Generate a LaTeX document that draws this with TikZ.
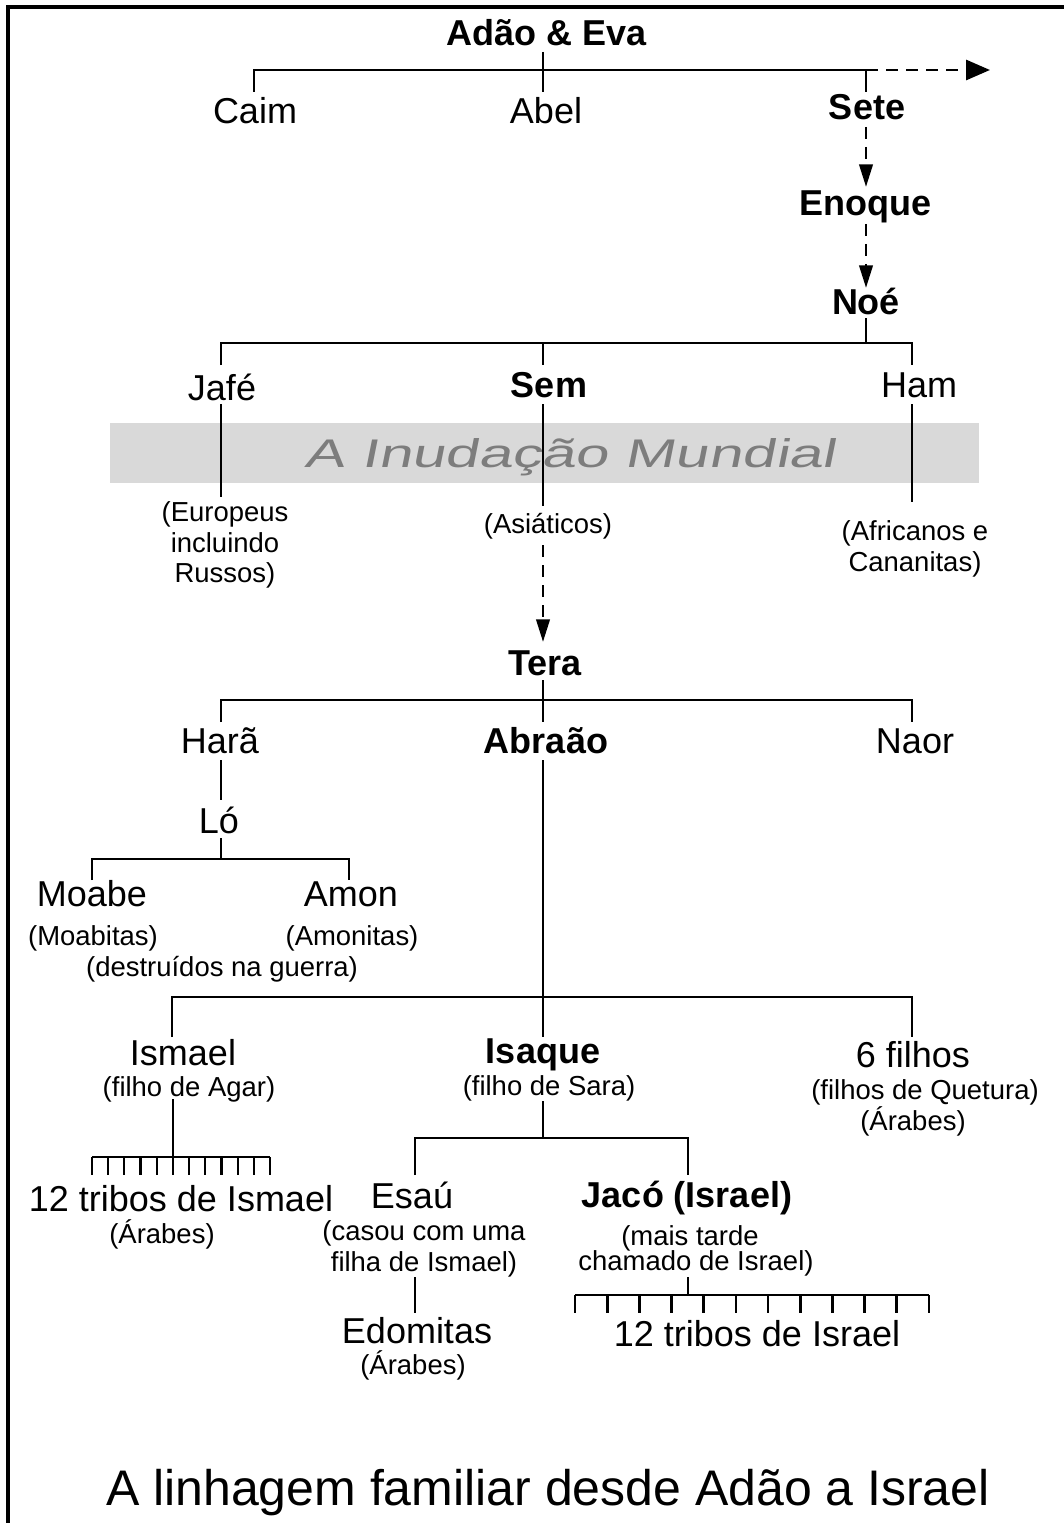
\documentclass[tikz,border=0pt]{standalone}
\usepackage{fontspec}
\setmainfont{Liberation Sans}
\newfontfamily\bandfont[FakeStretch=1.5,FakeSlant=0.2]{Liberation Sans}
\usetikzlibrary{arrows.meta}
\definecolor{bandgray}{RGB}{217,217,217}
\definecolor{bandtext}{RGB}{125,125,125}
\tikzset{
  nm/.style={font=\fontsize{27}{30}\selectfont, anchor=base, inner sep=0pt},
  bnm/.style={font=\fontsize{27}{30}\selectfont\bfseries, anchor=base, inner sep=0pt},
  sub/.style={font=\fontsize{20.6}{24}\selectfont, anchor=base, inner sep=0pt},
  ln/.style={line width=2.1pt},
  tk/.style={line width=1.6pt},
  dsh/.style={line width=2.2pt, dash pattern=on 9pt off 6pt},
  arr/.style={-{Triangle[length=17pt,width=10pt]}},
  bigarr/.style={-{Triangle[length=18pt,width=15pt]}}
}
\begin{document}
\begin{tikzpicture}[x=0.75pt,y=-0.75pt]
\useasboundingbox (0,0) rectangle (1063,1523);
% frame
\coordinate (fbl) at (8,1530);
\coordinate (ftl) at (8,7);
\coordinate (ftr) at (1070,7);
\draw[line width=2.3pt] (fbl) -- (ftl) -- (ftr);
% flood band
\fill[bandgray] (110,423) rectangle (979,483);
\node[font=\fontsize{30}{33}\selectfont\bandfont, text=bandtext, anchor=base, inner sep=0pt] (flood) at (570,467) {A Inudação Mundial};

% names
\node[bnm] (adao) at (547,46) {Adão \& Eva};
\node[nm] (caim) at (255,124) {Caim};
\node[nm] (abel) at (546,124) {Abel};
\node[bnm] (sete) at (867,120) {Sete};
\node[bnm] (enoque) at (865,216) {Enoque};
\node[bnm] (noe) at (866,314) {Noé};
\node[nm] (jafe) at (222,400) {Jafé};
\node[bnm] (sem) at (549,397) {Sem};
\node[nm] (ham) at (919,397) {Ham};
\node[sub] (eur1) at (225,521) {(Europeus};
\node[sub] (eur2) at (225,552) {incluindo};
\node[sub] (eur3) at (225,582) {Russos)};
\node[sub] (asia) at (548,533) {(Asiáticos)};
\node[sub] (afr1) at (915,540) {(Africanos e};
\node[sub] (afr2) at (915,571) {Cananitas)};
\node[bnm] (tera) at (545,675) {Tera};
\node[nm] (hara) at (220,753) {Harã};
\node[bnm] (abraao) at (546,753) {Abraão};
\node[nm] (naor) at (915,753) {Naor};
\node[nm] (lo) at (219,833) {Ló};
\node[nm] (moabe) at (92,906) {Moabe};
\node[nm] (amon) at (351,906) {Amon};
\node[sub] (moabitas) at (93,945) {(Moabitas)};
\node[sub] (amonitas) at (352,945) {(Amonitas)};
\node[sub] (destr) at (222,976) {(destruídos na guerra)};
\node[nm] (ismael) at (183,1065) {Ismael};
\node[bnm] (isaque) at (543,1063) {Isaque};
\node[nm] (seis) at (913,1067) {6 filhos};
\node[sub] (agar) at (189,1096) {(filho de Agar)};
\node[sub] (sara) at (549,1095) {(filho de Sara)};
\node[sub] (quet) at (925,1099) {(filhos de Quetura)};
\node[sub] (arab1) at (913,1130) {(Árabes)};
\node[nm] (tribism) at (181,1211) {12 tribos de Ismael};
\node[sub] (arab2) at (162,1243) {(Árabes)};
\node[nm] (esau) at (412,1208) {Esaú};
\node[bnm] (jaco) at (687,1207) {Jacó (Israel)};
\node[sub] (cas1) at (424,1240) {(casou com uma};
\node[sub] (cas2) at (424,1271) {filha de Ismael)};
\node[sub] (mais1) at (690,1245) {(mais tarde};
\node[sub] (mais2) at (696,1270) {chamado de Israel)};
\node[nm] (edom) at (417,1343) {Edomitas};
\node[sub] (arab3) at (413,1374) {(Árabes)};
\node[nm] (tribisr) at (757,1346) {12 tribos de Israel};
\node[font=\fontsize{37.5}{40}\selectfont, anchor=base, inner sep=0pt] (title) at (548,1505) {A linhagem familiar desde Adão a Israel};

% ---- connectors ----
% Adao & Eva
\coordinate (a0) at (543,52);
\coordinate (a1) at (543,92);
\coordinate (aL) at (254,70);
\coordinate (aLb) at (254,92);
\coordinate (aR) at (866,70);
\coordinate (aRb) at (866,92);
\coordinate (aArr) at (990,70);
\draw[ln] (a0) -- (a1);
\draw[ln] (aLb) -- (aL) -- (aR) -- (aRb);
\draw[dsh,bigarr] (aR) -- (aArr);
% Sete -> Enoque -> Noe
\coordinate (s0) at (866,127);
\coordinate (s1) at (866,187);
\coordinate (e0) at (866,224);
\coordinate (e1) at (866,288);
\draw[dsh,arr] (s0) -- (s1);
\draw[dsh,arr] (e0) -- (e1);
% Noe
\coordinate (n0) at (866,318);
\coordinate (n1) at (866,343);
\coordinate (nL) at (221,343);
\coordinate (nLb) at (221,365);
\coordinate (nR) at (912,343);
\coordinate (nRb) at (912,365);
\coordinate (nM) at (543,343);
\coordinate (nMb) at (543,365);
\draw[ln] (n0) -- (n1);
\draw[ln] (nLb) -- (nL) -- (nR) -- (nRb);
\draw[ln] (nM) -- (nMb);
% lines through the flood
\coordinate (j0) at (221,404);
\coordinate (j1) at (221,497);
\coordinate (m0) at (543,404);
\coordinate (m1) at (543,506);
\coordinate (h0) at (912,404);
\coordinate (h1) at (912,502);
\draw[ln] (j0) -- (j1);
\draw[ln] (m0) -- (m1);
\draw[ln] (h0) -- (h1);
% Sem -> Tera
\coordinate (t0) at (543,545);
\coordinate (t1) at (543,642);
\draw[dsh,arr] (t0) -- (t1);
% Tera
\coordinate (te0) at (543,680);
\coordinate (te1) at (543,722);
\coordinate (teL) at (221,700);
\coordinate (teLb) at (221,722);
\coordinate (teR) at (912,700);
\coordinate (teRb) at (912,722);
\draw[ln] (te0) -- (te1);
\draw[ln] (teLb) -- (teL) -- (teR) -- (teRb);
% Hara -> Lo
\coordinate (ha0) at (221,760);
\coordinate (ha1) at (221,800);
\draw[ln] (ha0) -- (ha1);
% Lo
\coordinate (l0) at (221,838);
\coordinate (l1) at (221,859);
\coordinate (lL) at (92,859);
\coordinate (lLb) at (92,880);
\coordinate (lR) at (349,859);
\coordinate (lRb) at (349,880);
\draw[ln] (l0) -- (l1);
\draw[ln] (lLb) -- (lL) -- (lR) -- (lRb);
% Abraao
\coordinate (ab0) at (543,760);
\coordinate (ab1) at (543,1037);
\coordinate (abL) at (172,997);
\coordinate (abLb) at (172,1037);
\coordinate (abR) at (912,997);
\coordinate (abRb) at (912,1037);
\draw[ln] (ab0) -- (ab1);
\draw[ln] (abLb) -- (abL) -- (abR) -- (abRb);
% Ismael -> 12 tribes
\coordinate (is0) at (173,1099);
\coordinate (is1) at (173,1175);
\coordinate (isL) at (92,1157);
\coordinate (isR) at (270,1157);
\draw[ln] (is0) -- (is1);
\draw[tk] (isL) -- (isR);
\foreach \i in {0,...,11} {
  \coordinate (ist\i) at ({92+\i*16.18},1157);
  \draw[tk] (ist\i) -- ++(0,18);
}
% Isaque
\coordinate (iq0) at (543,1101);
\coordinate (iq1) at (543,1138);
\coordinate (iqL) at (415,1138);
\coordinate (iqLb) at (415,1175);
\coordinate (iqR) at (688,1138);
\coordinate (iqRb) at (688,1175);
\draw[ln] (iq0) -- (iq1);
\draw[ln] (iqLb) -- (iqL) -- (iqR) -- (iqRb);
% Esau -> Edomitas
\coordinate (es0) at (415,1277);
\coordinate (es1) at (415,1313);
\draw[ln] (es0) -- (es1);
% Jaco -> 12 tribes of Israel
\coordinate (jc0) at (688,1277);
\coordinate (jc1) at (688,1295);
\coordinate (jcL) at (575,1295);
\coordinate (jcR) at (929,1295);
\draw[ln] (jc0) -- (jc1);
\draw[ln] (jcL) -- (jcR);
\foreach \i in {0,...,11} {
  \coordinate (jt\i) at ({575+\i*32.18},1295);
  \draw[ln] (jt\i) -- ++(0,18);
}
\end{tikzpicture}
\end{document}
